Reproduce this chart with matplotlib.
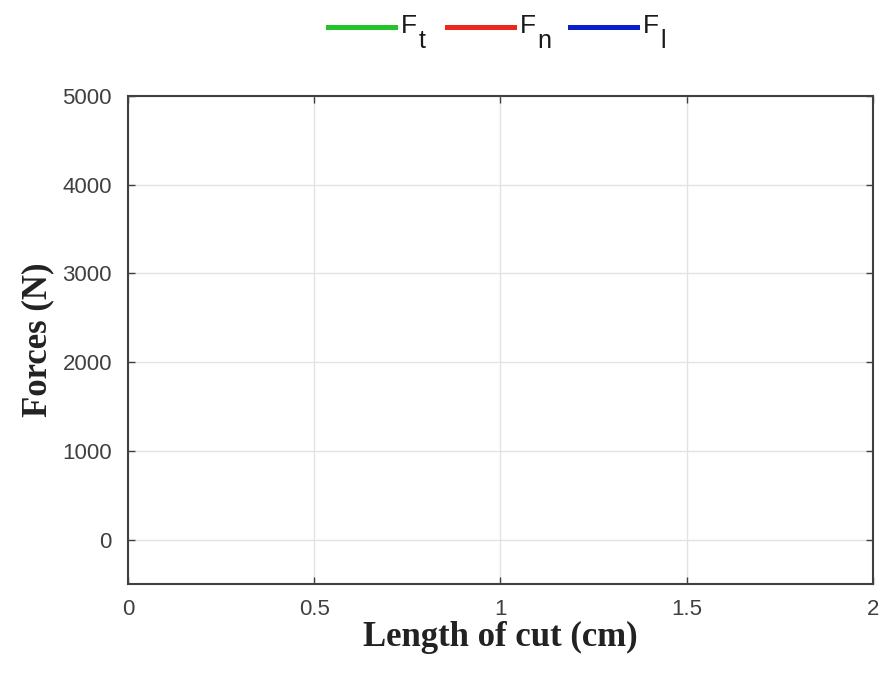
import matplotlib
matplotlib.use("Agg")
import matplotlib.pyplot as plt

# Data (the reference chart shows no plotted data, only the legend entries)
length_cm = []
F_t = []
F_n = []
F_l = []
series_names = ["F", "F", "F"]
series_subs = ["t", "n", "l"]
series_colors = ["#22c42a", "#e8291c", "#0a1fc8"]
x_ticks = [0, 0.5, 1, 1.5, 2]
y_ticks = [0, 1000, 2000, 3000, 4000, 5000]

plt.rcParams['font.family'] = ['Liberation Sans', 'DejaVu Sans']

W, H = 888, 673
fig = plt.figure(figsize=(W / 100, H / 100), dpi=100)
ax = fig.add_axes([0.1441, 0.1322, 0.839, 0.7252])

lines = []
for ys, lab, col in zip([F_t, F_n, F_l], series_names, series_colors):
    ln, = ax.plot(length_cm, ys, color=col, lw=3.6, label=lab)
    lines.append(ln)

ax.set_xlim(0, 2)
ax.set_ylim(-500, 5000)
ax.set_xticks(x_ticks)
ax.set_xticklabels([f"{v:g}" for v in x_ticks])
ax.set_yticks(y_ticks)
ax.grid(True, color='#e3e3e3', lw=1.0)
ax.set_axisbelow(True)
ax.tick_params(direction='in', top=True, right=True, length=5, width=1.0,
               color='#404040', labelsize=16, labelcolor='#404040')
ax.tick_params(axis='y', pad=11.5)
ax.tick_params(axis='x', pad=10.5)
for sp in ax.spines.values():
    sp.set_color('#404040')
    sp.set_linewidth(1.5)

ax.set_xlabel("Length of cut (cm)", family='Liberation Serif', weight='bold',
              fontsize=25, color='#222222', labelpad=1)
ax.set_ylabel("Forces (N)", family='Liberation Serif', weight='bold',
              fontsize=25, color='#222222', labelpad=6)

# One legend entry per series, placed side by side above the axes
entry_x = [328, 447, 570]
legends = []
for ln, ex in zip(lines, entry_x):
    lg = fig.legend(handles=[ln], loc='center left',
                    bbox_to_anchor=(ex / W, 1 - 29 / H),
                    frameon=False, fontsize=19, handlelength=2.55,
                    handletextpad=0.2, borderpad=0, borderaxespad=0)
    for t in lg.get_texts():
        t.set_color('#1a1a1a')
        t.set_y(3)
    legends.append(lg)

fig.canvas.draw()
renderer = fig.canvas.get_renderer()
for lg, sub in zip(legends, series_subs):
    bb = lg.get_texts()[0].get_window_extent(renderer)
    fig.text((bb.x1 + 2) / W, 1 - 48 / H, sub, fontsize=18,
             color='#1a1a1a', ha='left', va='baseline')

fig.savefig("out.png", dpi=100)
